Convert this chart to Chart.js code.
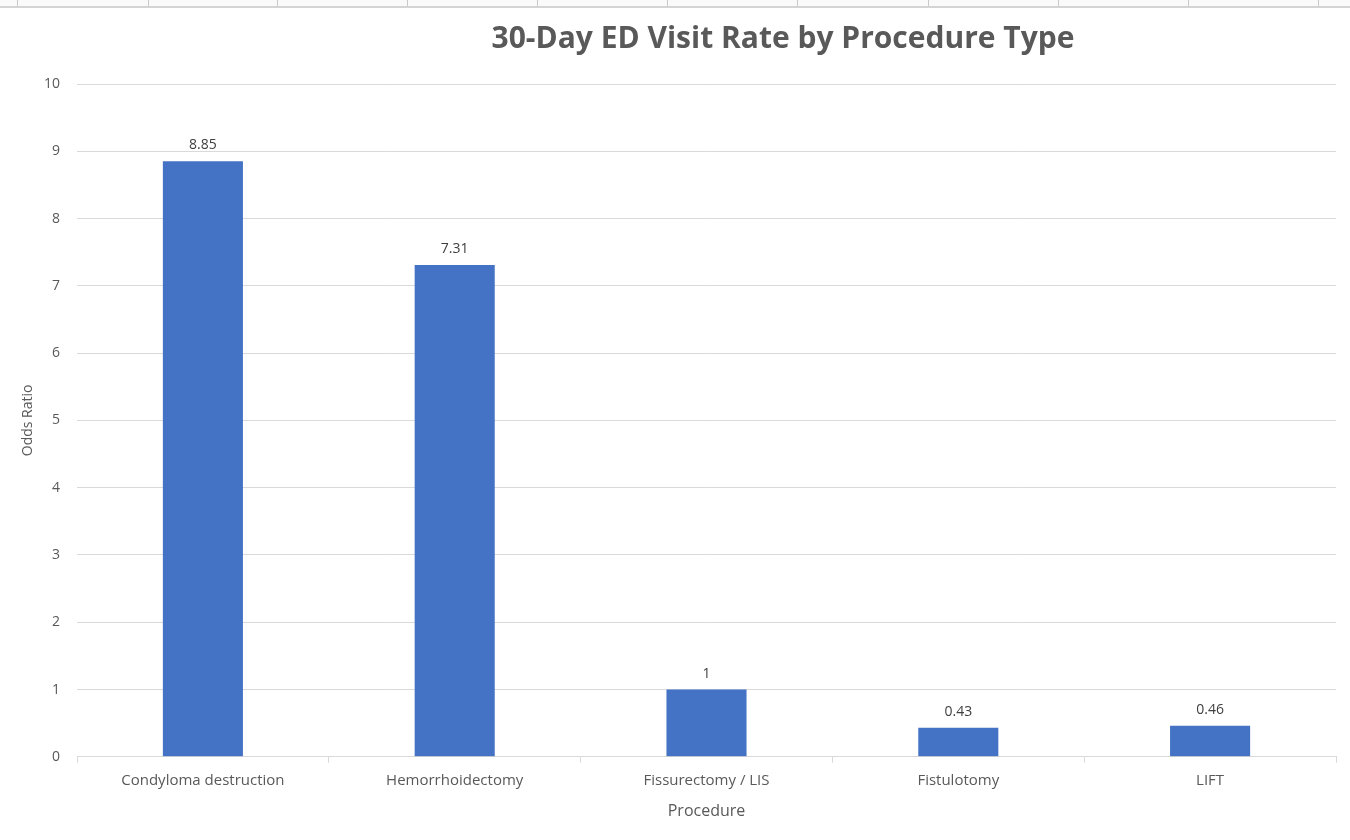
<!DOCTYPE html>
<html>
<head>
<meta charset="utf-8">
<script src="https://cdn.jsdelivr.net/npm/chart.js@4.4.1/dist/chart.umd.min.js"></script>
<style>
  html, body { margin:0; padding:0; background:#fff; }
  #wrap { position:relative; width:1350px; height:840px; overflow:hidden; }
  #sheet { position:absolute; left:0; top:0; width:1350px; height:6px; border-bottom:2px solid #d4d4d4; background:#fafafa; }
  #sheet span { position:absolute; top:0; height:6px; border-left:1px solid #c8c8c8; }
  #title { position:absolute; left:0; width:1566px; top:16px; text-align:center; line-height:42px;
           font: bold 30px "Open Sans", sans-serif; color:#595959; margin:0; }
  canvas { position:absolute; left:0; top:0; }
</style>
</head>
<body>
<div id="wrap">
  <canvas id="chartED" width="1350" height="840"></canvas>
  <div id="sheet"></div>
  <h1 id="title">30-Day ED Visit Rate by Procedure Type</h1>
</div>
<script>
// dados do gráfico
const procedures = ['Condyloma destruction', 'Hemorrhoidectomy', 'Fissurectomy / LIS', 'Fistulotomy', 'LIFT'];
const oddsRatio = [8.85, 7.31, 1, 0.43, 0.46];
const yTicks = [0, 1, 2, 3, 4, 5, 6, 7, 8, 9, 10];

// linhas de coluna da planilha no topo
const sheet = document.getElementById('sheet');
[17,148,277,407,537,667,797,928,1058,1188,1318].forEach(x => {
  const s = document.createElement('span');
  s.style.left = x + 'px';
  sheet.appendChild(s);
});

const FONT = '"Open Sans", sans-serif';

// rótulos de valor acima das barras
const valueLabels = {
  id: 'valueLabels',
  afterDatasetsDraw(chart){
    const {ctx} = chart;
    const meta = chart.getDatasetMeta(0);
    ctx.save();
    ctx.font = '14px ' + FONT;
    ctx.fillStyle = '#404040';
    ctx.textAlign = 'center';
    ctx.textBaseline = 'bottom';
    meta.data.forEach((bar, i) => {
      ctx.fillText(String(chart.data.datasets[0].data[i]), bar.x, bar.y - 9);
    });
    ctx.restore();
  }
};

const ctx = document.getElementById('chartED').getContext('2d');
const chart = new Chart(ctx, {
  type: 'bar',
  data: {
    labels: procedures,
    datasets: [{
      label: 'Odds Ratio',
      data: oddsRatio,
      backgroundColor: '#4472C4',
      borderWidth: 0,
      categoryPercentage: 1,
      barPercentage: 0.318
    }]
  },
  options: {
    responsive: false,
    animation: false,
    layout: { padding: { top: 84, right: 14, bottom: 15, left: 16 } },
    scales: {
      x: {
        grid: { display: true, drawOnChartArea: false, drawTicks: true, tickLength: 6, color: '#d9d9d9', offset: true },
        border: { display: true, color: '#d9d9d9', width: 1 },
        ticks: { color: '#595959', font: { family: FONT, size: 15 }, padding: 9, maxRotation: 0 },
        title: { display: true, text: 'Procedure', color: '#595959', font: { family: FONT, size: 16 }, padding: { top: 3 } }
      },
      y: {
        min: 0, max: 10,
        afterBuildTicks(axis){ axis.ticks = yTicks.map(v => ({ value: v })); },
        afterFit(axis){ axis.width = 61; },
        grid: { color: '#d9d9d9', drawTicks: false },
        border: { display: false },
        ticks: { color: '#595959', font: { family: FONT, size: 14 }, padding: 17 },
        title: { display: true, text: 'Odds Ratio', color: '#595959', font: { family: FONT, size: 14 }, padding: { top: 4, bottom: 0 } }
      }
    },
    plugins: {
      legend: { display: false },
      tooltip: { enabled: false }
    }
  },
  plugins: [valueLabels]
});
</script>
</body>
</html>
